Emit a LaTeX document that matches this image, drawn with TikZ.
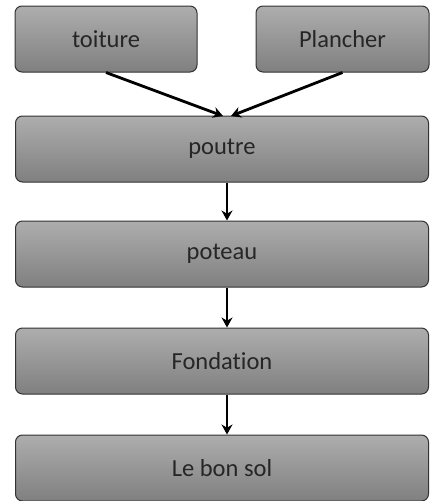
\documentclass[tikz,border=0pt]{standalone}
\usepackage{fontspec}
\setmainfont[Ligatures={NoCommon}]{Carlito}
\usetikzlibrary{arrows.meta}
\begin{document}
\begin{tikzpicture}[x=1pt,y=1pt,
  box/.style={draw=black!80,line width=1pt,rounded corners=7pt,
    top color=black!32,bottom color=black!50,minimum height=66pt,
    inner sep=0pt,font=\fontsize{24.5}{28}\selectfont,text=black!85},
  fleche/.style={-{Stealth[length=10pt,width=11pt]},line width=2.8pt}]
\useasboundingbox (0,0) rectangle (430,-501);

\node[box,minimum width=182pt] (toiture) at (106,-39) {toiture};
\node[box,minimum width=173pt] (plancher) at (342.5,-39) {Plancher};
\node[box,minimum width=413pt] (poutre) at (222,-149) {poutre};
\node[box,minimum width=413pt] (poteau) at (222,-254) {poteau};
\node[box,minimum width=413pt] (fondation) at (222,-361) {Fondation};
\node[box,minimum width=413pt] (sol) at (222,-468) {Le bon sol};

\coordinate (pA) at (223,-116);
\coordinate (pB) at (231,-116);

\draw[fleche] (toiture.south) -- (pA);
\draw[fleche] (plancher.south) -- (pB);
\draw[fleche] (poutre.south -| 227,0) -- (poteau.north -| 227,0);
\draw[fleche] (poteau.south -| 227,0) -- (fondation.north -| 227,0);
\draw[fleche] (fondation.south -| 227,0) -- (sol.north -| 227,0);
\end{tikzpicture}
\end{document}
